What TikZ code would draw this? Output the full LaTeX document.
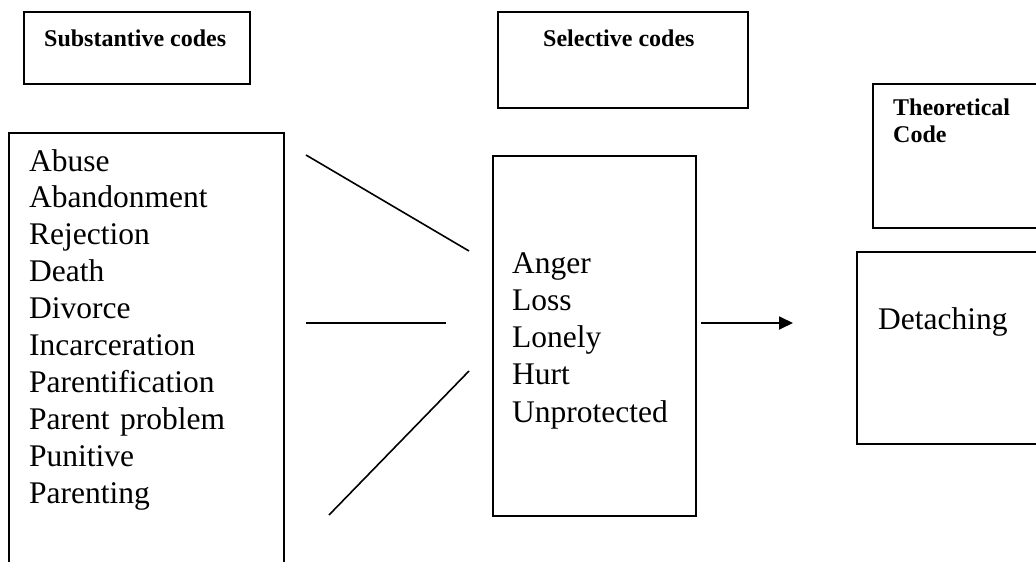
\documentclass[tikz,border=0pt]{standalone}
\usepackage{fontspec}
\setmainfont{Liberation Serif}
\usetikzlibrary{arrows.meta}
\begin{document}
\begin{tikzpicture}[x=1pt,y=-1pt,
  box/.style={draw=black,line width=2pt,rectangle,inner sep=0pt,anchor=north west},
  title/.style={font=\fontsize{24}{27.6}\selectfont\bfseries,anchor=base west,inner sep=0pt,align=left},
  list/.style={font=\fontsize{31.5}{36.9}\selectfont,anchor=base west,inner sep=0pt,text width=260pt,align=left},
  link/.style={line width=1.6pt},
  flow/.style={line width=1.8pt,-{Triangle[length=14pt,width=13pt]}}]
\useasboundingbox (0,0) rectangle (1036,562);
\clip (0,0) rectangle (1036,562);
% title boxes
\node[box,minimum width=226pt,minimum height=72pt] (subbox) at (23,11) {};
\node[title] (subtitle) at (44,46) {Substantive codes};
\node[box,minimum width=250pt,minimum height=96pt] (selbox) at (497,11) {};
\node[title] (seltitle) at (543,46) {Selective codes};
\node[box,minimum width=200pt,minimum height=144pt] (theobox) at (872,83) {};
\node[title,text width=140pt] (theotitle) at (893,115) {Theoretical\\Code};
% content boxes
\node[box,minimum width=275pt,minimum height=460pt] (leftbox) at (8,132) {};
\node[list] (lefttext) at (29,171) {Abuse\\Abandonment\\Rejection\\Death\\Divorce\\Incarceration\\Parentification\\Parent problem\\Punitive\\Parenting};
\node[box,minimum width=203pt,minimum height=360pt] (midbox) at (492,155) {};
\node[list,font=\fontsize{31.5}{37.25}\selectfont,text width=190pt] (midtext) at (512,273) {Anger\\Loss\\Lonely\\Hurt\\Unprotected};
\node[box,minimum width=220pt,minimum height=192pt] (detbox) at (856,251) {};
\node[list,text width=160pt] (dettext) at (878,329) {Detaching};
% connectors
\coordinate (a1) at (306,155);
\coordinate (a2) at (469,251);
\coordinate (b1) at (306,323);
\coordinate (b2) at (446,323);
\coordinate (c1) at (329,515);
\coordinate (c2) at (469,371);
\coordinate (d1) at (701,323);
\coordinate (d2) at (793,323);
\draw[link] (a1) -- (a2);
\draw[link] (b1) -- (b2);
\draw[link] (c1) -- (c2);
\draw[flow] (d1) -- (d2);
\end{tikzpicture}
\end{document}
